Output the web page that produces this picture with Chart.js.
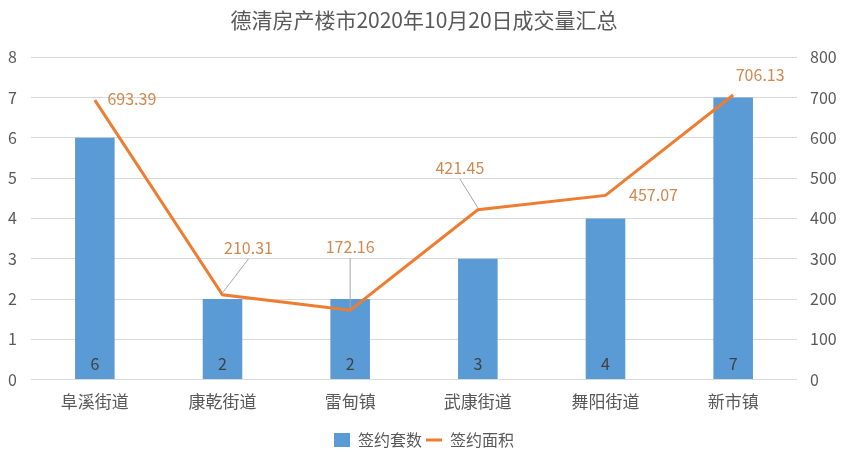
<!DOCTYPE html>
<html>
<head>
<meta charset="utf-8">
<script src="https://cdn.jsdelivr.net/npm/chart.js@4.4.1/dist/chart.umd.min.js"></script>
<style>
  html, body { margin: 0; padding: 0; background: #fff; }
</style>
</head>
<body>
<canvas id="chart" width="848" height="462"></canvas>
<script>
'use strict';

// data
const categories = ['阜溪街道', '康乾街道', '雷甸镇', '武康街道', '舞阳街道', '新市镇'];
const unitCounts = [6, 2, 2, 3, 4, 7];
const signedAreas = [693.39, 210.31, 172.16, 421.45, 457.07, 706.13];
const countTicks = [0, 1, 2, 3, 4, 5, 6, 7, 8];
const areaTicks = [0, 100, 200, 300, 400, 500, 600, 700, 800];

const FONT = '"Noto Sans CJK SC", "Noto Sans", sans-serif';
const BLUE = '#5b9bd5';
const ORANGE = '#ed7d31';

// label placement for the line values: [dx, dy, leader line]
const areaLabelPos = [
  [37, -1, false],
  [26, -47, true],
  [0, -63, true],
  [-18, -42, true],
  [48, 0, false],
  [27, -20, false],
];

const valueLabels = {
  id: 'valueLabels',
  afterDatasetsDraw(chart) {
    const ctx = chart.ctx;
    ctx.save();
    ctx.textAlign = 'center';
    ctx.textBaseline = 'middle';

    // bar counts, inside the bar near the base
    const barMeta = chart.getDatasetMeta(0);
    ctx.font = '16px ' + FONT;
    ctx.fillStyle = '#404040';
    barMeta.data.forEach(function (bar, i) {
      ctx.fillText(String(unitCounts[i]), bar.x, bar.base - 15);
    });

    // line values with optional leader lines
    const lineMeta = chart.getDatasetMeta(1);
    lineMeta.data.forEach(function (pt, i) {
      const pos = areaLabelPos[i];
      const lx = pt.x + pos[0];
      const ly = pt.y + pos[1];
      if (pos[2]) {
        ctx.strokeStyle = '#a6a6a6';
        ctx.lineWidth = 1;
        ctx.beginPath();
        ctx.moveTo(lx, ly + 11);
        ctx.lineTo(pt.x, pt.y - 2);
        ctx.stroke();
      }
      ctx.font = '16px ' + FONT;
      ctx.fillStyle = '#d0884f';
      ctx.fillText(signedAreas[i].toFixed(2), lx, ly);
    });
    ctx.restore();
  }
};

new Chart(document.getElementById('chart'), {
  data: {
    labels: categories,
    datasets: [
      {
        type: 'bar',
        label: '签约套数',
        data: unitCounts,
        backgroundColor: BLUE,
        yAxisID: 'y',
        barPercentage: 0.31,
        categoryPercentage: 1,
        order: 2,
        pointStyle: 'rect',
      },
      {
        type: 'line',
        label: '签约面积',
        data: signedAreas,
        borderColor: ORANGE,
        backgroundColor: ORANGE,
        borderWidth: 3,
        pointRadius: 0,
        tension: 0,
        yAxisID: 'y1',
        order: 1,
        pointStyle: 'line',
      },
    ],
  },
  options: {
    responsive: false,
    animation: false,
    layout: { padding: { left: 0, right: 0, bottom: 4 } },
    plugins: {
      title: {
        display: true,
        text: '德清房产楼市2020年10月20日成交量汇总',
        color: '#595959',
        font: { family: FONT, size: 21, weight: 'normal' },
        padding: { top: 7, bottom: 25 },
      },
      legend: {
        position: 'bottom',
        labels: {
          color: '#595959',
          font: { family: FONT, size: 16 },
          usePointStyle: true,
          pointStyleWidth: 16,
          boxHeight: 14,
          padding: 4,
          sort: function (a, b) { return a.datasetIndex - b.datasetIndex; },
        },
      },
      tooltip: { enabled: false },
    },
    scales: {
      x: {
        grid: { display: false },
        border: { display: false },
        ticks: { color: '#595959', font: { family: FONT, size: 17 }, padding: 4 },
        afterFit: function (axis) { axis.height += 12; },
      },
      y: {
        position: 'left',
        min: 0,
        max: 8,
        afterBuildTicks: function (axis) {
          axis.ticks = countTicks.map(function (v) { return { value: v }; });
        },
        afterFit: function (axis) { axis.width = 31; },
        grid: { color: '#d9d9d9', drawTicks: false },
        border: { display: false },
        ticks: { color: '#595959', font: { family: FONT, size: 16 }, padding: 14 },
      },
      y1: {
        position: 'right',
        min: 0,
        max: 800,
        afterBuildTicks: function (axis) {
          axis.ticks = areaTicks.map(function (v) { return { value: v }; });
        },
        afterFit: function (axis) { axis.width = 51; },
        grid: { drawOnChartArea: false, drawTicks: false },
        border: { display: false },
        ticks: { color: '#595959', font: { family: FONT, size: 16 }, padding: 13 },
      },
    },
  },
  plugins: [valueLabels],
});
</script>
</body>
</html>
